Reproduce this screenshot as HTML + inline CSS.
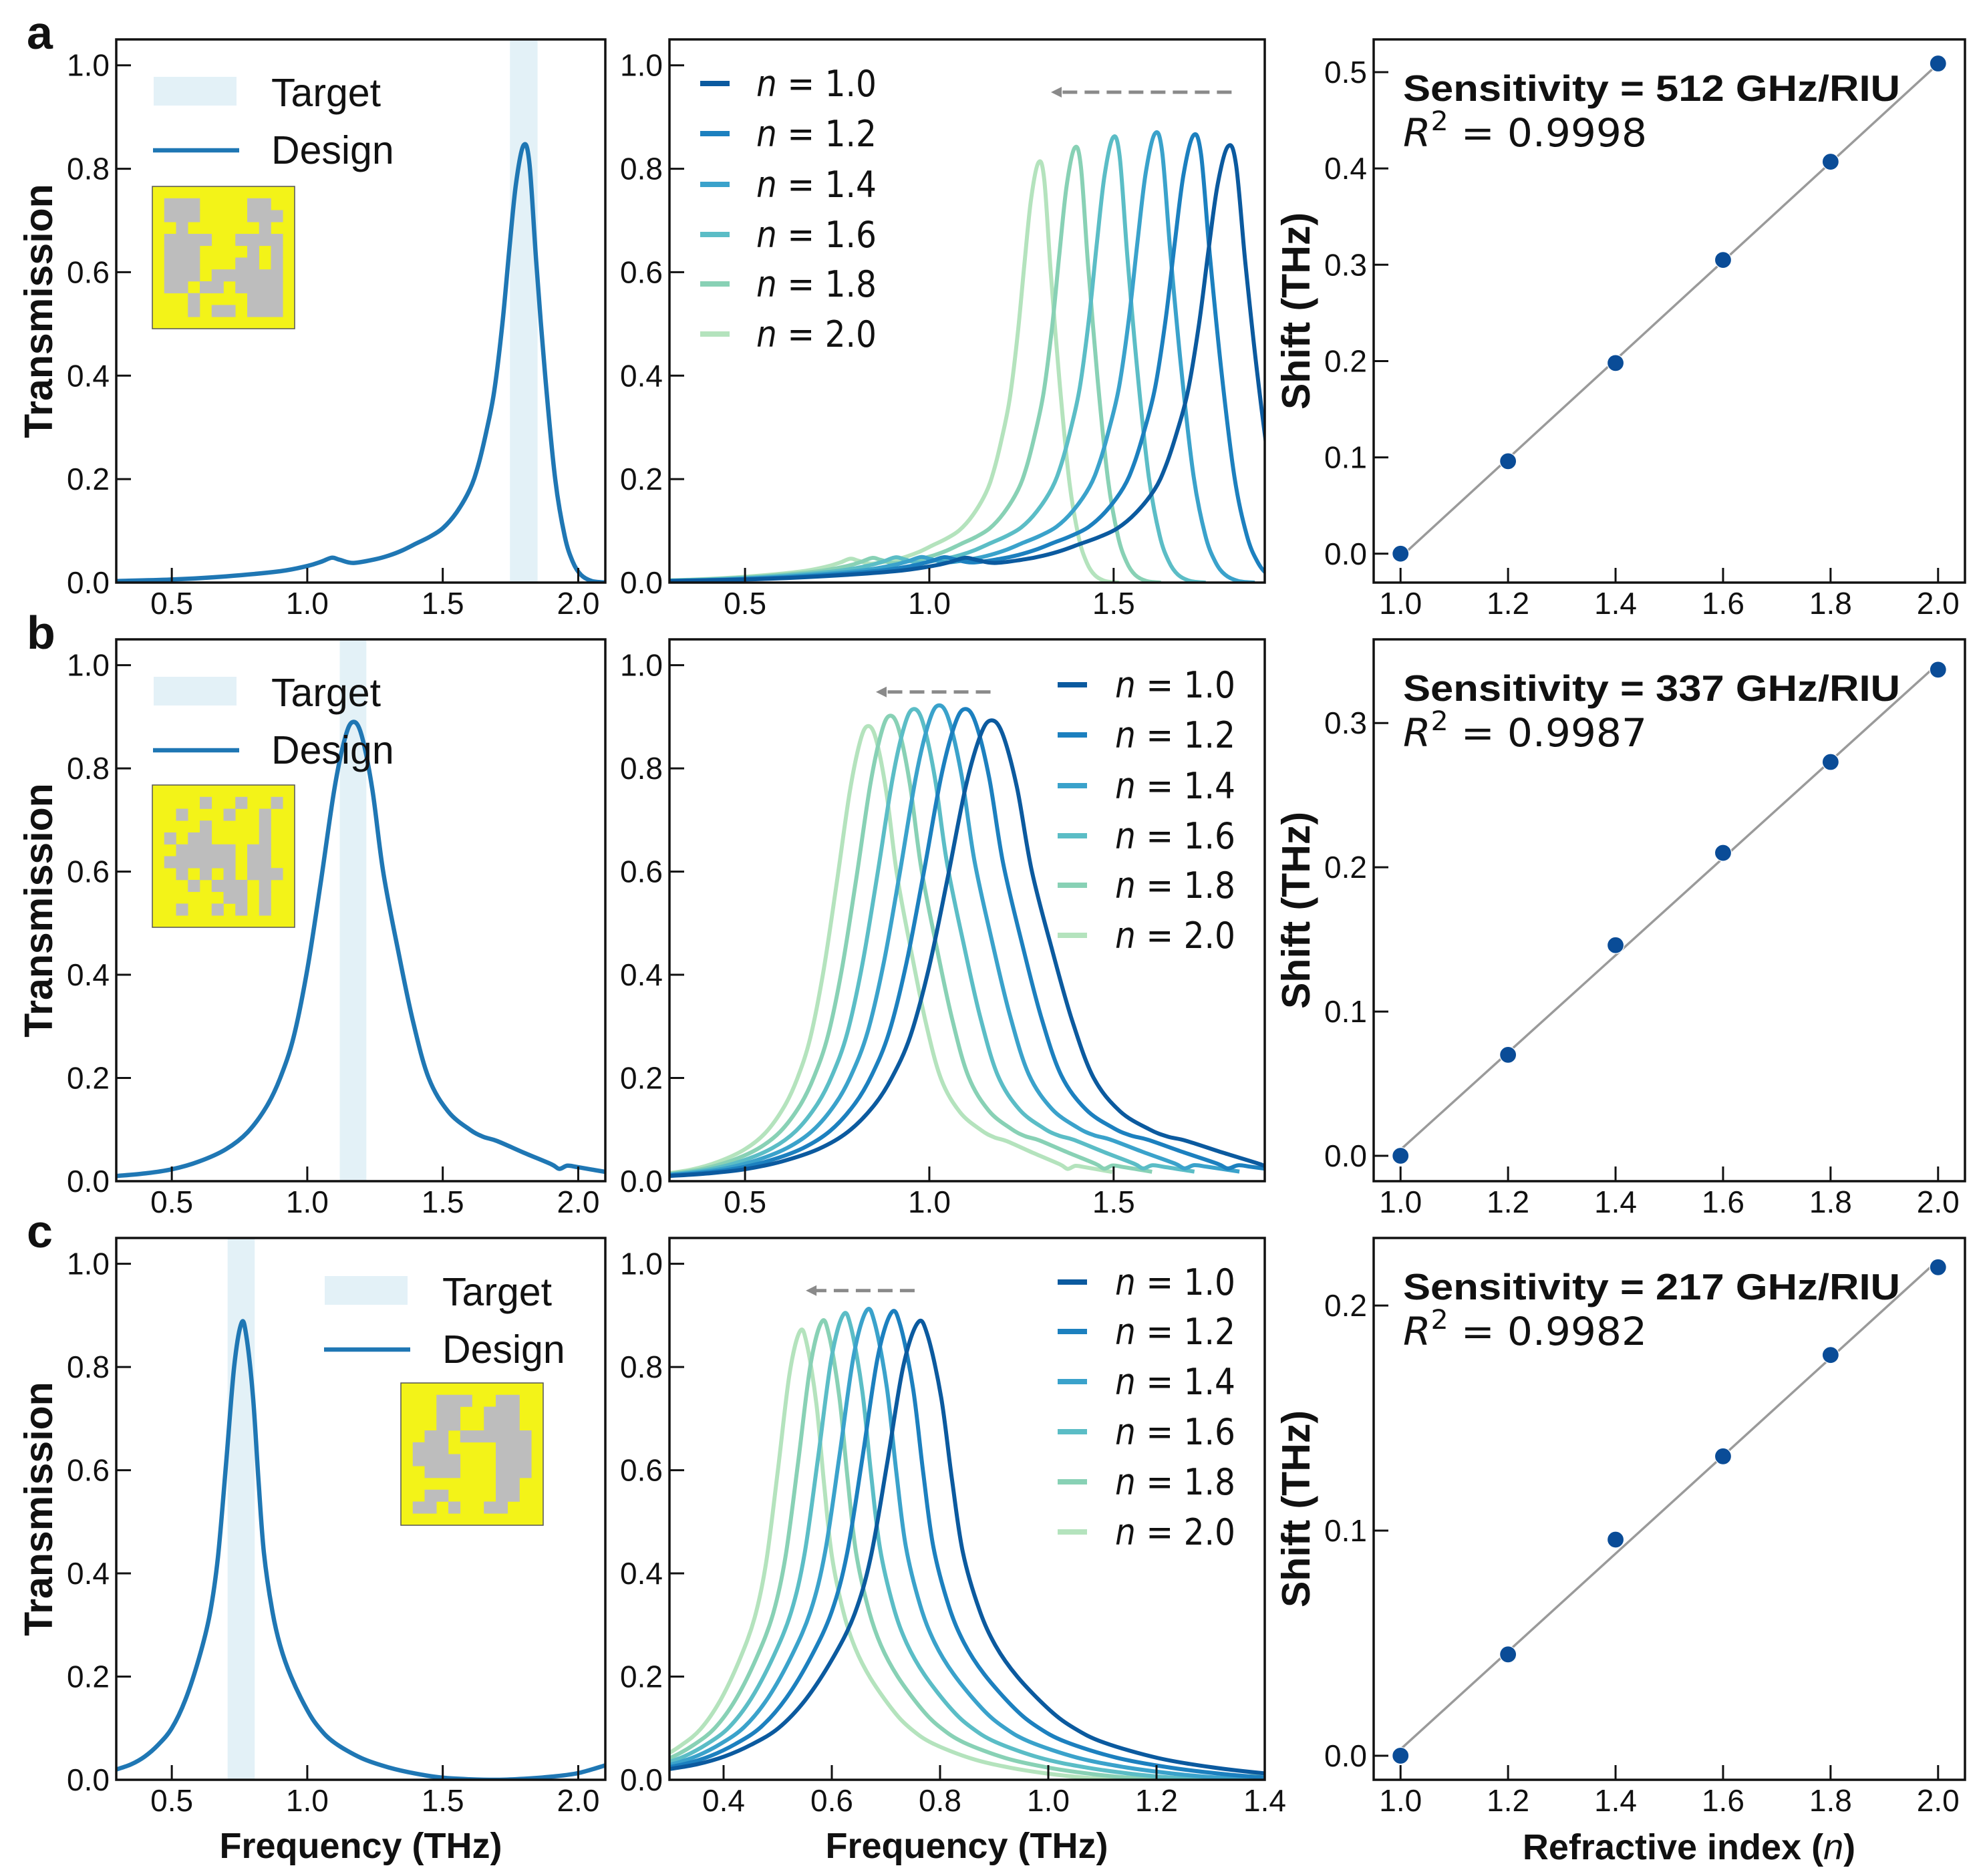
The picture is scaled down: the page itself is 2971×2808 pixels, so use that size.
<!DOCTYPE html>
<html><head><meta charset="utf-8"><style>
html,body{margin:0;padding:0;background:#fff;}
svg{display:block;}
text{font-family:"Liberation Sans",Arial,sans-serif;fill:#111;}
</style></head><body>
<svg id="fig" xmlns="http://www.w3.org/2000/svg" width="2971" height="2808" viewBox="0 0 2971 2808"></svg>
<script>
// ---------- data ----------
const nValues=[1.0,1.2,1.4,1.6,1.8,2.0];
const nLabels=["1.0","1.2","1.4","1.6","1.8","2.0"];
// design spectra (freq THz, transmission)
const designFA=[0.295,0.5,0.7,0.9,1.0,1.05,1.09,1.12,1.17,1.25,1.3,1.35,1.4,1.45,1.5,1.55,1.6,1.63,1.66,1.69,1.72,1.745,1.77,1.798,1.82,1.845,1.878,1.915,1.95,1.98,2.01,2.05,2.1];
const designTA=[0.003,0.006,0.012,0.022,0.032,0.04,0.048,0.044,0.038,0.045,0.052,0.062,0.075,0.088,0.105,0.135,0.18,0.225,0.29,0.37,0.5,0.64,0.77,0.845,0.81,0.62,0.4,0.2,0.09,0.04,0.015,0.003,0.0];
const designFB=[0.295,0.4,0.5,0.6,0.7,0.78,0.85,0.9,0.95,1.0,1.05,1.1,1.14,1.169,1.2,1.24,1.28,1.336,1.39,1.448,1.52,1.6,1.65,1.7,1.8,1.9,1.93,1.96,2.0,2.1];
const designTB=[0.01,0.015,0.023,0.038,0.062,0.095,0.145,0.2,0.28,0.41,0.58,0.76,0.86,0.89,0.865,0.76,0.6,0.445,0.31,0.2,0.135,0.1,0.086,0.078,0.055,0.033,0.024,0.03,0.027,0.018];
const designFC=[0.295,0.35,0.4,0.45,0.5,0.55,0.6,0.64,0.67,0.7,0.73,0.757,0.775,0.8,0.82,0.84,0.87,0.9,0.94,1.0,1.045,1.1,1.2,1.3,1.4,1.5,1.6,1.7,1.8,1.9,2.0,2.1];
const designTC=[0.02,0.03,0.045,0.068,0.1,0.155,0.235,0.32,0.43,0.61,0.8,0.885,0.86,0.74,0.58,0.44,0.33,0.26,0.2,0.135,0.1,0.072,0.042,0.024,0.012,0.004,0.001,0.0,0.002,0.006,0.013,0.028];
const designPeakF=[1.798,1.169,0.757];
const designPeakT=[0.845,0.89,0.885];
const targetLo=[1.748,1.12,0.706];
const targetHi=[1.85,1.218,0.806];
// refractive-index sweeps: peak frequency and height
const peaksA=[1.81,1.716,1.612,1.498,1.394,1.296];
const heightsA=[0.843,0.864,0.868,0.86,0.84,0.812];
const peaksB=[1.167,1.096,1.025,0.957,0.893,0.833];
const heightsB=[0.893,0.915,0.922,0.915,0.902,0.882];
const peaksC=[0.759,0.71,0.664,0.621,0.581,0.541];
const heightsC=[0.886,0.905,0.909,0.901,0.887,0.869];
// shifts
const shiftA=[0,0.096,0.198,0.305,0.407,0.509];
const shiftB=[0,0.07,0.146,0.21,0.273,0.337];
const shiftC=[0,0.045,0.096,0.133,0.178,0.217];
const sensLabels=["Sensitivity = 512 GHz/RIU","Sensitivity = 337 GHz/RIU","Sensitivity = 217 GHz/RIU"];
const r2Labels=["0.9998","0.9987","0.9982"];
const col1Ticks=[0.5,1.0,1.5,2.0];
const col2TicksAB=[0.5,1.0,1.5];
const col2TicksC=[0.4,0.6,0.8,1.0,1.2,1.4];
const transTicks=[0,0.2,0.4,0.6,0.8,1.0];
const col3XTicks=[1.0,1.2,1.4,1.6,1.8,2.0];
const col3YTicks=[[0,0.1,0.2,0.3,0.4,0.5],[0,0.1,0.2,0.3],[0,0.1,0.2]];
const arrowFrom=[1.82,1.166,0.753];
const arrowTo=[1.33,0.855,0.552];
const insetA=["1110000110","1110000111","0100000010","1111001111","1110000101","1110001101","1110111111","1101101111","0010000111","0010110111"];
const insetB=["0001001001","0100010010","0001000010","1011000010","0111110110","1111110110","0101010111","0010111010","0000011010","0100101010"];
const insetC=["0011100110","0011001110","0011001110","0110111111","1110000111","1111000111","0111000111","0000000110","0110000110","1101001100"];

// ---------- layout ----------
const NS="http://www.w3.org/2000/svg";
const svg=document.getElementById('fig');
const rows=[[59,872],[957,1768],[1853,2664]];
const cols=[[174,906],[1002,1893],[2056,2941]];
const seriesColors=["#0b5a9f","#1c80bf","#3aa2cb","#5bbdc6","#88d1b5","#b4e3bd"];
function el(tag,attrs,parent){const e=document.createElementNS(NS,tag);for(const k in attrs)e.setAttribute(k,attrs[k]);(parent||svg).appendChild(e);return e;}
function scale(d0,d1,r0,r1){return v=>r0+(v-d0)/(d1-d0)*(r1-r0);}
function spline(pts){let d="M"+pts[0][0].toFixed(1)+","+pts[0][1].toFixed(1);
 for(let i=0;i<pts.length-1;i++){const p0=pts[i-1]||pts[i],p1=pts[i],p2=pts[i+1],p3=pts[i+2]||p2;
  const c1=[p1[0]+(p2[0]-p0[0])/6,p1[1]+(p2[1]-p0[1])/6],c2=[p2[0]-(p3[0]-p1[0])/6,p2[1]-(p3[1]-p1[1])/6];
  d+="C"+c1[0].toFixed(1)+","+c1[1].toFixed(1)+" "+c2[0].toFixed(1)+","+c2[1].toFixed(1)+" "+p2[0].toFixed(1)+","+p2[1].toFixed(1);}
 return d;}
let clipId=0;
function makeAxes(ci,ri,xd,yd,xt,yt,xfmt,yfmt,name){
 const [x0,x1]=cols[ci],[y0,y1]=rows[ri];
 const g=el('g',{});
 
 
 const X=scale(xd[0],xd[1],x0,x1),Y=scale(yd[0],yd[1],y1,y0);
 const id='clip'+(clipId++);
 const cp=el('clipPath',{id:id},g);el('rect',{x:x0,y:y0,width:x1-x0,height:y1-y0},cp);
 const plot=el('g',{'clip-path':'url(#'+id+')'},g);
 const axisG=el('g',{},g);
 xt.forEach(v=>{const x=X(v);
  const t=el('line',{x1:x,x2:x,y1:y1,y2:y1-22,stroke:'#111','stroke-width':3},axisG);
  
  
  const l=el('text',{x:x,y:y1+47,'font-size':46,'text-anchor':'middle'},axisG);l.textContent=xfmt(v);
  
  });
 yt.forEach(v=>{const y=Y(v);
  const t=el('line',{x1:x0,x2:x0+22,y1:y,y2:y,stroke:'#111','stroke-width':3},axisG);
  
  
  const l=el('text',{x:x0-10,y:y+16,'font-size':46,'text-anchor':'end'},axisG);l.textContent=yfmt(v);
  
  });
 return {g,plot,axisG,X,Y,x0,x1,y0,y1};
}
function frame(a){const r=el('rect',{x:a.x0,y:a.y0,width:a.x1-a.x0,height:a.y1-a.y0,fill:'none',stroke:'#111','stroke-width':3.5},a.g);
 
 }
const f1=v=>v.toFixed(1);
const designF=[designFA,designFB,designFC],designT=[designTA,designTB,designTC];
const peaks=[peaksA,peaksB,peaksC],heights=[heightsA,heightsB,heightsC],shifts=[shiftA,shiftB,shiftC];
const insets=[insetA,insetB,insetC];
const letters=['a','b','c'];

for(let r=0;r<3;r++){
 const a=makeAxes(0,r,[0.295,2.1],[0,1.05],col1Ticks,transTicks,f1,f1,'design-spectrum-'+letters[r]);
 const band=el('rect',{x:a.X(targetLo[r]),y:a.y0,width:a.X(targetHi[r])-a.X(targetLo[r]),height:a.y1-a.y0,fill:'#e3f1f7'},a.plot);
 
 
 const pts=designF[r].map((f,i)=>[a.X(f),a.Y(designT[r][i])]);
 const dl=el('path',{d:spline(pts),fill:'none',stroke:'#1f77b4','stroke-width':6.5,'stroke-linejoin':'round'},a.plot);
 
 
 frame(a);
 const lx=r===2?486:230, ly=r===2?1910:(r===0?115:1013);
 const lp=el('rect',{x:lx,y:ly,width:124,height:43,fill:'#e3f1f7'},a.g);
 
 
 const lt=el('text',{x:lx+176,y:ly+44,'font-size':59},a.g);lt.textContent='Target';
 
 
 const ll=el('line',{x1:lx-1,x2:lx+128,y1:ly+110,y2:ly+110,stroke:'#1f77b4','stroke-width':6.5},a.g);
 
 
 const ld=el('text',{x:lx+176,y:ly+130,'font-size':59},a.g);ld.textContent='Design';
 
 
 const ix=r===2?600:228, iy=r===0?279:(r===1?1175:2070), cs=213/12;
 const ig=el('g',{},a.g);
 
 
 el('rect',{x:ix,y:iy,width:213,height:213,fill:'#f3f318',stroke:'#555','stroke-width':1.5},ig);
 insets[r].forEach((row,ri)=>{for(let c=0;c<10;c++){if(row[c]==='1')el('rect',{x:ix+cs*(c+1),y:iy+cs*(ri+1),width:cs+0.3,height:cs+0.3,fill:'#bdbdbd'},ig);}});
 const yl=el('text',{x:0,y:0,'font-size':59,'font-weight':'bold','text-anchor':'middle',transform:'translate(78,'+((a.y0+a.y1)/2)+') rotate(-90)'},a.g);yl.textContent='Transmission';
 
 
 const let_=el('text',{x:40,y:a.y0+14,'font-size':70,'font-weight':'bold'},svg);let_.textContent=letters[r];
 
 

 const xd2=r===2?[0.3,1.4]:[0.295,1.91];
 const b=makeAxes(1,r,xd2,[0,1.05],r===2?col2TicksC:col2TicksAB,transTicks,f1,f1,'index-sweep-'+letters[r]);
 for(let i=5;i>=0;i--){
  const ratio=peaks[r][i]/designPeakF[r], hr=heights[r][i]/designPeakT[r];
  const p=designF[r].map((f,k)=>[b.X(f*ratio),b.Y(designT[r][k]*hr)]);
  const c=el('path',{d:spline(p),fill:'none',stroke:seriesColors[i],'stroke-width':6,'stroke-linejoin':'round'},b.plot);
  
  
 }
 frame(b);
 const ay=b.Y(0.948);
 const ar=el('line',{x1:b.X(arrowFrom[r]),x2:b.X(arrowTo[r])+14,y1:ay,y2:ay,stroke:'#8a8a8a','stroke-width':5,'stroke-dasharray':'22 11'},b.g);
 
 
 const ah=el('polygon',{points:(b.X(arrowTo[r]))+','+ay+' '+(b.X(arrowTo[r])+16)+','+(ay-8)+' '+(b.X(arrowTo[r])+16)+','+(ay+8),fill:'#8a8a8a'},b.g);
 
 
 const legX=r===0?1048:1583, legTxt=r===0?1132:1669;
 const legY=r===0?[125,200,276,351,425,500]:(r===1?[1025,1100,1176,1251,1325,1400]:[1919,1993,2068,2143,2218,2293]);
 for(let i=0;i<6;i++){
  const l=el('line',{x1:legX,x2:legX+44,y1:legY[i],y2:legY[i],stroke:seriesColors[i],'stroke-width':8},b.g);
  
  
  const t=el('text',{x:legTxt,y:legY[i]+19,'font-size':54,textLength:180,lengthAdjust:'spacingAndGlyphs',style:'font-family:"DejaVu Sans",sans-serif'},b.g);
  
  
  const ts=el('tspan',{'font-style':'italic'},t);ts.textContent='n';
  const ts2=el('tspan',{},t);ts2.textContent=' = '+nLabels[i];
 }

 const yd3=[[-0.03,0.534],[-0.0176,0.358],[-0.0107,0.23]][r];
 const c3=makeAxes(2,r,[0.95,2.05],yd3,col3XTicks,col3YTicks[r],f1,f1,'shift-plot-'+letters[r]);
 const xs=nValues,ys=shifts[r],mx=xs.reduce((s,v)=>s+v,0)/6,my=ys.reduce((s,v)=>s+v,0)/6;
 let sxy=0,sxx=0;for(let i=0;i<6;i++){sxy+=(xs[i]-mx)*(ys[i]-my);sxx+=(xs[i]-mx)**2;}
 const slope=sxy/sxx,icpt=my-slope*mx;
 const fl=el('line',{x1:c3.X(1.0),y1:c3.Y(icpt+slope*1.0),x2:c3.X(2.0),y2:c3.Y(icpt+slope*2.0),stroke:'#9a9a9a','stroke-width':3.5},c3.plot);
 
 
 for(let i=0;i<6;i++){
  const d=el('circle',{cx:c3.X(xs[i]),cy:c3.Y(ys[i]),r:12.5,fill:'#0a4c97',stroke:'#fff','stroke-width':1.2},c3.g);
  
  
 }
 frame(c3);
 const st=el('text',{x:2100,y:a.y0+92,'font-size':55,'font-weight':'bold',textLength:744,lengthAdjust:'spacingAndGlyphs'},c3.g);st.textContent=sensLabels[r];
 
 
 const rt=el('text',{x:2100,y:a.y0+160,'font-size':58,textLength:365,lengthAdjust:'spacingAndGlyphs',style:'font-family:"DejaVu Sans",sans-serif'},c3.g);
 
 
 const r1=el('tspan',{'font-style':'italic'},rt);r1.textContent='R';
 const r2=el('tspan',{dy:-24,'font-size':40},rt);r2.textContent='2';
 const r3=el('tspan',{dy:24},rt);r3.textContent=' = '+r2Labels[r];
 const sy=el('text',{x:0,y:0,'font-size':59,'font-weight':'bold','text-anchor':'middle',transform:'translate(1960,'+((a.y0+a.y1)/2)+') rotate(-90)'},c3.g);sy.textContent='Shift (THz)';
 
 
}
const xt1=el('text',{x:540,y:2781,'font-size':54,'font-weight':'bold','text-anchor':'middle'});xt1.textContent='Frequency (THz)';


const xt2=el('text',{x:1447,y:2781,'font-size':54,'font-weight':'bold','text-anchor':'middle'});xt2.textContent='Frequency (THz)';


const xt3=el('text',{x:2528,y:2783,'font-size':54,'font-weight':'bold','text-anchor':'middle'});


const q1=el('tspan',{},xt3);q1.textContent='Refractive index (';
const q2=el('tspan',{'font-style':'italic','font-weight':'normal'},xt3);q2.textContent='n';
const q3=el('tspan',{},xt3);q3.textContent=')';
</script>
</body></html>
